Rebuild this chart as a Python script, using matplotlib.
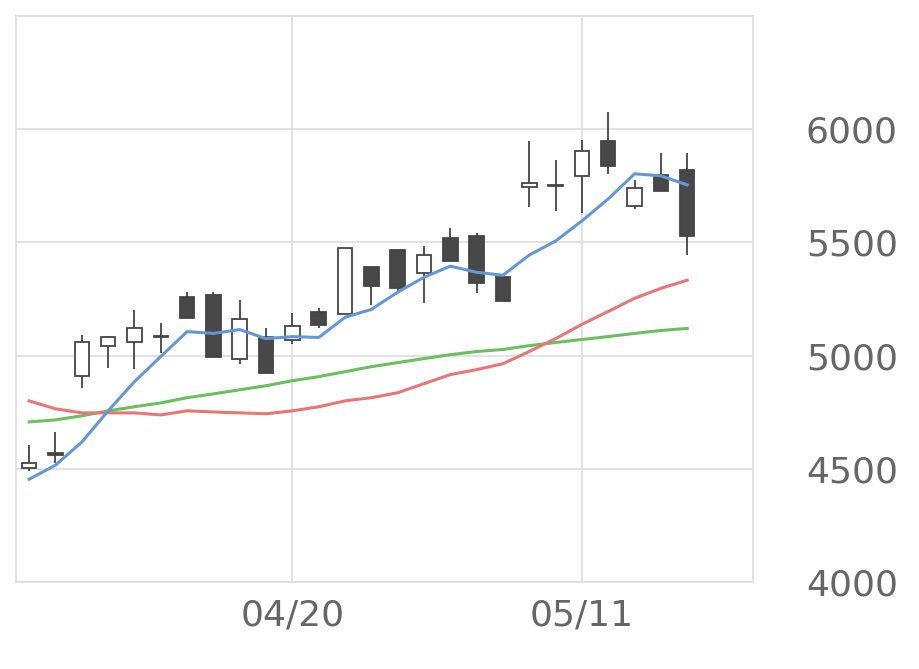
import matplotlib
matplotlib.use("Agg")
import matplotlib.pyplot as plt
import numpy as np

# ローソク足データ (始値, 高値, 安値, 終値)
opens  = [4503, 4570, 4911, 5044, 5062, 5080, 5257, 5266, 4987, 5084, 5067, 5191, 5182,
          5390, 5466, 5364, 5519, 5528, 5346, 5745, 5752, 5794, 5950, 5661, 5799, 5821]
highs  = [4605, 4663, 5089, 5085, 5200, 5146, 5280, 5280, 5244, 5120, 5186, 5209, 5475,
          5390, 5466, 5484, 5564, 5541, 5346, 5950, 5865, 5954, 6074, 5777, 5896, 5896]
lows   = [4490, 4525, 4858, 4947, 4942, 5013, 5164, 4996, 4964, 4925, 5053, 5120, 5182,
          5222, 5280, 5231, 5417, 5275, 5240, 5657, 5639, 5630, 5803, 5648, 5728, 5444]
closes = [4525, 4560, 5058, 5080, 5124, 5082, 5164, 4996, 5160, 4925, 5129, 5133, 5475,
          5306, 5297, 5444, 5417, 5320, 5240, 5763, 5748, 5905, 5839, 5741, 5728, 5528]

ma_short = [4454, 4516, 4618, 4756, 4885, 4996, 5106, 5098, 5115, 5075, 5084, 5080, 5169,
            5204, 5280, 5346, 5395, 5368, 5355, 5444, 5506, 5595, 5692, 5803, 5794, 5754]
ma_mid = [4800, 4765, 4747, 4747, 4747, 4738, 4756, 4751, 4747, 4743, 4756, 4774, 4800,
          4814, 4836, 4876, 4916, 4938, 4964, 5018, 5075, 5138, 5195, 5253, 5297, 5333]
ma_long = [4707, 4716, 4734, 4756, 4774, 4791, 4814, 4831, 4849, 4867, 4889, 4907, 4929,
           4951, 4969, 4987, 5004, 5018, 5027, 5044, 5058, 5071, 5084, 5098, 5111, 5120]

xtick_pos = [10, 21]
xtick_labels = ["04/20", "05/11"]
ytick_vals = [4000, 4500, 5000, 5500, 6000]

fig = plt.figure(figsize=(9.2, 6.69), dpi=100)
ax = fig.add_axes([16/920, 1 - 582/669, 737/920, 566/669])

x = np.arange(len(opens))
w = 0.55
for i in x:
    o, h, l, c = opens[i], highs[i], lows[i], closes[i]
    up = c >= o
    ax.vlines(i, l, h, color="#444444", lw=1.3, zorder=2)
    bottom = min(o, c)
    height = max(abs(c - o), 6)
    ax.bar(i, height, w, bottom=bottom,
           color="white" if up else "#484848", edgecolor="#444444", lw=1.3, zorder=3)

ax.plot(x, ma_long, color="#6abf5e", lw=2.2, zorder=4)
ax.plot(x, ma_mid, color="#e87676", lw=2.2, zorder=4)
ax.plot(x, ma_short, color="#6497d8", lw=2.2, zorder=4)

ax.set_xlim(-0.5, 27.5)
ax.set_ylim(4000, 6500)
ax.set_xticks(xtick_pos)
ax.set_xticklabels(xtick_labels)
ax.set_yticks(ytick_vals)
ax.set_yticklabels([str(v) for v in ytick_vals])
ax.yaxis.tick_right()
ax.tick_params(axis="both", length=0, labelsize=26, labelcolor="#666666")
ax.tick_params(axis="y", pad=38)
ax.tick_params(axis="x", pad=12)
ax.grid(True, color="#dddddd", lw=1.2, zorder=0)
ax.set_axisbelow(True)
for s in ax.spines.values():
    s.set_color("#dddddd")
    s.set_linewidth(1.2)

fig.savefig("out.png", dpi=100)
